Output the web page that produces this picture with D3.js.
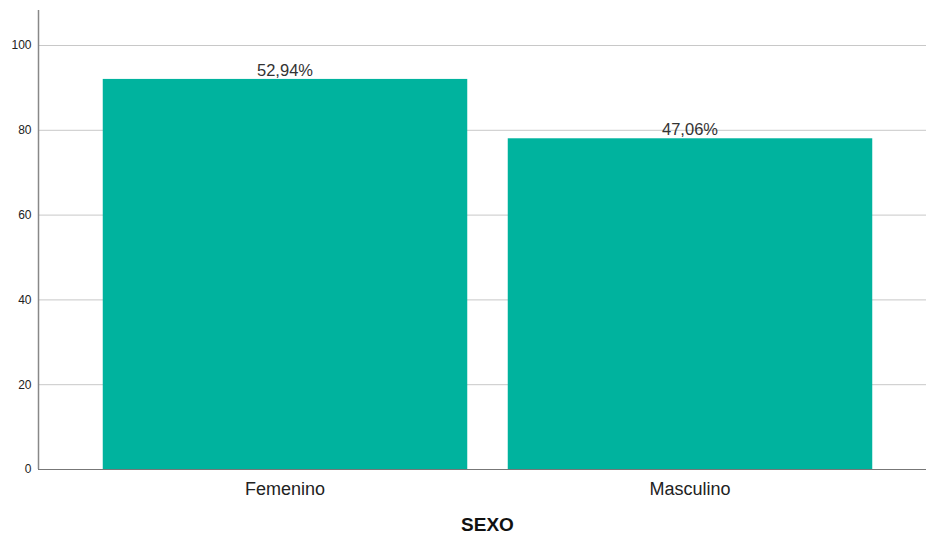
<!DOCTYPE html>
<html>
<head>
<meta charset="utf-8">
<script src="https://cdn.jsdelivr.net/npm/d3@7"></script>
<style>
  body { margin: 0; background: #fff; }
  svg { display: block; font-family: "Liberation Sans", Arial, sans-serif; }
</style>
</head>
<body>
<svg id="chart" width="926" height="534"></svg>
<script>
// data
var categories = ["Femenino", "Masculino"];
var values = [92, 78];
var percentLabels = ["52,94%", "47,06%"];
var yTicks = [0, 20, 40, 60, 80, 100];
var axisTitle = "SEXO";

var width = 926, height = 534;
var barColor = "#00b39e";

var svg = d3.select("#chart");

var x = d3.scaleBand()
    .domain(categories)
    .range([82.5, 892.5])
    .paddingInner(0.1)
    .paddingOuter(0.05);

var y = d3.scaleLinear()
    .domain([0, 100])
    .range([469, 45]);

// grid lines
svg.append("g")
    .selectAll("line")
    .data(yTicks.filter(function(d) { return d > 0; }))
    .enter().append("line")
    .attr("x1", 38)
    .attr("x2", width)
    .attr("y1", function(d) { return y(d) + 0.5; })
    .attr("y2", function(d) { return y(d) + 0.5; })
    .attr("stroke", "#c8c8c8")
    .attr("stroke-width", 1);

// bars
svg.append("g")
    .selectAll("rect")
    .data(values)
    .enter().append("rect")
    .attr("x", function(d, i) { return x(categories[i]); })
    .attr("width", x.bandwidth())
    .attr("y", function(d) { return y(d); })
    .attr("height", function(d) { return y(0) - y(d); })
    .attr("fill", barColor);

// value labels
svg.append("g")
    .selectAll("text")
    .data(values)
    .enter().append("text")
    .attr("x", function(d, i) { return x(categories[i]) + x.bandwidth() / 2; })
    .attr("y", function(d) { return y(d) - 3; })
    .attr("text-anchor", "middle")
    .attr("font-size", 16.5)
    .attr("fill", "#333")
    .text(function(d, i) { return percentLabels[i]; });

// y axis
var yAxis = svg.append("g")
    .attr("transform", "translate(38.5,0)")
    .call(d3.axisLeft(y).tickValues(yTicks).tickSize(0).tickPadding(7));
yAxis.select(".domain").remove();
yAxis.selectAll("text").attr("font-size", 12).attr("fill", "#222")
    .attr("font-family", "Liberation Sans, Arial, sans-serif");
svg.append("line")
    .attr("x1", 38.5).attr("x2", 38.5)
    .attr("y1", 10).attr("y2", 469)
    .attr("stroke", "#888").attr("stroke-width", 1.5);

// x axis
var xAxis = svg.append("g")
    .attr("transform", "translate(0,469.5)")
    .call(d3.axisBottom(x).tickSize(0).tickPadding(13));
xAxis.select(".domain").remove();
xAxis.selectAll("text").attr("font-size", 18).attr("fill", "#222")
    .attr("font-family", "Liberation Sans, Arial, sans-serif");
svg.append("line")
    .attr("x1", 38).attr("x2", width)
    .attr("y1", 469.5).attr("y2", 469.5)
    .attr("stroke", "#777").attr("stroke-width", 1.2);

// axis title
svg.append("text")
    .attr("x", x.range()[0] + (x.range()[1] - x.range()[0]) / 2)
    .attr("y", 531)
    .attr("text-anchor", "middle")
    .attr("font-size", 19)
    .attr("font-weight", "bold")
    .attr("fill", "#111")
    .text(axisTitle);
</script>
</body>
</html>
